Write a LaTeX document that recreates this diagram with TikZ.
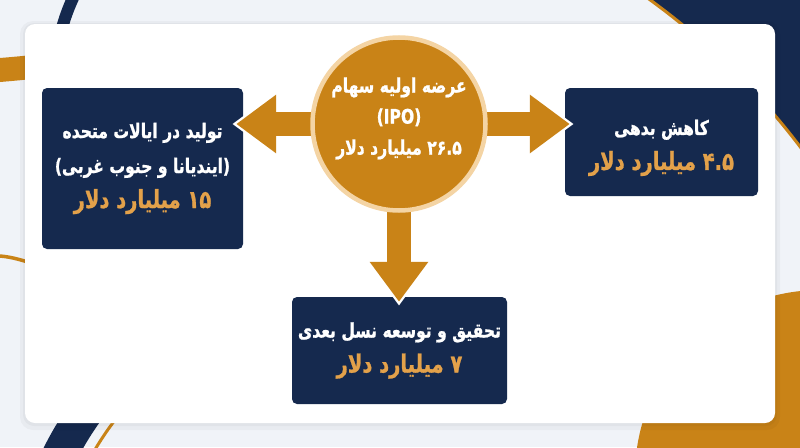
\documentclass[tikz,border=0pt]{standalone}
\usepackage{fontspec}
\usetikzlibrary{arrows.meta}
\TeXXeTstate=1
\newfontfamily\fa[Script=Arabic, FakeStretch=0.78, FakeBold=1]{DejaVu Sans}
\definecolor{ipoorange}{HTML}{C98317}
\definecolor{ipopeach}{HTML}{F4D4A4}
\definecolor{navyblue}{HTML}{15294E}
\definecolor{goldtext}{HTML}{E3A14A}
\definecolor{pagebg}{HTML}{F0F3F8}
\newcommand\faline[1]{\beginR#1\endR}
\newcommand\amount[1]{{\color{goldtext}\fontsize{25}{30}\selectfont\beginR#1\endR}}

\begin{document}
\begin{tikzpicture}[x=1pt, y=-1pt,
    infobox/.style={fill=navyblue, rounded corners=5pt, align=center, text=white, inner sep=0pt,
      font=\fa\bfseries\fontsize{20}{35}\selectfont},
    ipocircle/.style={circle, fill=ipoorange, draw=ipopeach, line width=4.5pt, minimum size=173pt,
      inner sep=0pt, align=center, text=white, text depth=16pt, font=\fa\bfseries\fontsize{20}{31}\selectfont},
    flowarrow/.style={draw=ipoorange, line width=24pt, -{Triangle[width=56pt,length=40pt]},
      preaction={draw=white, line width=29pt, -{Triangle[width=64pt,length=46pt]}, shorten >=-4pt}}]
    % Backdrop
    \fill[pagebg] (0,0) rectangle (800,447);
    \useasboundingbox (0,0) rectangle (800,447);

    % Corner shapes
    \begin{scope}
        \clip (560,0) rectangle (800,300);
        \fill[navyblue, even odd rule] (500,-50) rectangle (850,350) (231,578) circle (714);
        \draw[ipoorange, line width=3pt] (231,578) circle (714);
    \end{scope}
    \fill[ipoorange] (820,475) circle (185);
    \begin{scope}
        \clip (0,380) rectangle (220,447);
        \fill[navyblue, even odd rule] (350,600) circle (342) (350,600) circle (307);
        \draw[ipoorange, line width=3pt] (350,600) circle (296);
    \end{scope}
    \begin{scope}
        \clip (0,0) rectangle (140,40);
        \fill[navyblue, even odd rule] (250,80) circle (201) (250,80) circle (189);
    \end{scope}
    \fill[ipoorange] (0,58) .. controls (12,57) and (24,56) .. (40,54) -- (40,78) .. controls (24,80) and (12,81) .. (0,82) -- cycle;
    \draw[ipoorange, line width=3.5pt] (0,256) .. controls (12,257) and (22,260) .. (40,266);

    % Card
    \fill[black, opacity=0.03, rounded corners=13pt] (20,21) rectangle (780,430);
    \fill[black, opacity=0.03, rounded corners=11pt] (23,23) rectangle (777,426);
    \fill[white, rounded corners=10pt] (25,24) rectangle (775,423);

    % Boxes
    \node[infobox, minimum width=201pt, minimum height=161pt] (prod) at (142.5,168.5)
        {\faline{تولید در ایالات متحده}\\ \faline{(ایندیانا و جنوب غربی)}\\ \amount{۱۵ میلیارد دلار}};
    \node[infobox, minimum width=193pt, minimum height=108pt] (debt) at (661.5,142)
        {\rule{0pt}{27pt}\faline{کاهش بدهی}\\ \amount{۴.۵ میلیارد دلار}};
    \node[infobox, minimum width=215pt, minimum height=107pt] (rnd) at (399.5,350.5)
        {\faline{تحقیق و توسعه نسل بعدی}\\ \amount{۷ میلیارد دلار}};

    % Arrows
    \coordinate (hub) at (399,124);
    \draw[flowarrow] (hub) -- ([xshift=-7pt]hub -| prod.east);
    \draw[flowarrow] (hub) -- ([xshift=5pt]hub -| debt.west);
    \draw[flowarrow] (hub) -- ([yshift=-5pt]hub |- rnd.north);

    % Center
    \node[ipocircle] (ipo) at (hub)
        {\faline{عرضه اولیه سهام}\\ (IPO)\\ \faline{۲۶.۵ میلیارد دلار}};
\end{tikzpicture}
\end{document}
